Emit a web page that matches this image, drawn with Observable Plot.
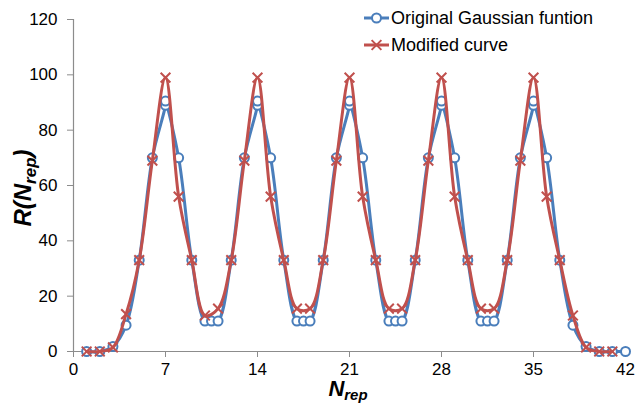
<!DOCTYPE html>
<html>
<head>
<meta charset="utf-8">
<script src="https://cdn.jsdelivr.net/npm/d3@7"></script>
<script src="https://cdn.jsdelivr.net/npm/@observablehq/plot@0.6"></script>
<style>
  html, body { margin: 0; padding: 0; background: white; }
</style>
</head>
<body>
<div id="chart"></div>
<script>
// Data
const seriesNames = ["Original Gaussian funtion", "Modified curve"];
const blueX = [1,2,3,4,5,6,7,7,8,9,10,10.5,11,12,13,14,14,15,16,17,17.5,18,19,20,21,21,22,23,24,24.5,25,26,27,28,28,29,30,31,31.5,32,33,34,35,35,36,37,38,39,40,41,42];
const blueY = [0,0,1.8,9.5,33,70,89,90.5,70,33,11,11,11,33,70,89,90.5,70,33,11,11,11,33,70,89,90.5,70,33,11,11,11,33,70,89,90.5,70,33,11,11,11,33,70,89,90.5,70,33,9.5,1.8,0,0,0];
const redX = [1,2,3,4,5,6,7,8,9,10,11,12,13,14,15,16,17,18,19,20,21,22,23,24,25,26,27,28,29,30,31,32,33,34,35,36,37,38,39,40,41];
const redY = [0,0,1.5,13.5,33,69,99,56,33,13,15.5,33,69,99,56,33,15.5,15.5,33,69,99,56,33,15.5,15.5,33,69,99,56,33,15.5,15.5,33,69,99,56,33,13,1.5,0,0];
const xTicks = [0,7,14,21,28,35,42];
const yTicks = [0,20,40,60,80,100,120];

const blue = "#4a7ebb";
const red = "#c0504d";
const axisGrey = "#8c8c8c";

const blueData = blueX.map((x, i) => ({x, y: blueY[i]}));
const redData = redX.map((x, i) => ({x, y: redY[i]}));

const svg = Plot.plot({
  width: 635,
  height: 405,
  marginLeft: 73,
  marginRight: 10,
  marginTop: 19,
  marginBottom: 54,
  style: {fontFamily: "'Liberation Sans', Arial, sans-serif", background: "white", color: "black"},
  x: {domain: [0, 42]},
  y: {domain: [0, 120]},
  marks: [
    Plot.axisX({ticks: xTicks, tickSize: 6, tickPadding: 5, fontSize: 17, label: null, stroke: axisGrey}),
    Plot.axisY({ticks: yTicks, tickSize: 6, tickPadding: 10, fontSize: 17, label: null, stroke: axisGrey}),
    Plot.ruleY([0], {stroke: axisGrey, strokeWidth: 1.2}),
    Plot.ruleX([0], {stroke: axisGrey, strokeWidth: 1.2}),
    Plot.line(blueData, {x: "x", y: "y", stroke: blue, strokeWidth: 3, curve: "catmull-rom"}),
    Plot.dot(blueData, {x: "x", y: "y", r: 4.5, stroke: blue, strokeWidth: 2, fill: "white"}),
    Plot.line(redData, {x: "x", y: "y", stroke: red, strokeWidth: 3, curve: "catmull-rom"}),
    Plot.dot(redData, {x: "x", y: "y", symbol: "times", r: 4.5, stroke: red, strokeWidth: 2})
  ]
});

const s = d3.select(svg);
const font = "'Liberation Sans', Arial, sans-serif";

// Y axis label R(N_rep)
const yl = s.append("text")
  .attr("transform", "translate(31,188) rotate(-90)")
  .attr("text-anchor", "middle")
  .attr("font-family", font)
  .attr("font-weight", "bold")
  .attr("font-style", "italic")
  .attr("font-size", 24)
  .attr("fill", "black");
yl.append("tspan").text("R(N");
yl.append("tspan").attr("font-size", 17).attr("dy", 5).text("rep");
yl.append("tspan").attr("dy", -5).text(")");

// X axis label N_rep
const xl = s.append("text")
  .attr("x", 348)
  .attr("y", 396)
  .attr("text-anchor", "middle")
  .attr("font-family", font)
  .attr("font-weight", "bold")
  .attr("font-style", "italic")
  .attr("font-size", 22)
  .attr("fill", "black");
xl.append("tspan").text("N");
xl.append("tspan").attr("font-size", 15).attr("dy", 4).text("rep");

// Legend
const legend = [
  {name: seriesNames[0], color: blue, y: 18, kind: "circle"},
  {name: seriesNames[1], color: red, y: 45, kind: "times"}
];
legend.forEach(d => {
  const g = s.append("g");
  g.append("line").attr("x1", 364).attr("x2", 389).attr("y1", d.y).attr("y2", d.y)
    .attr("stroke", d.color).attr("stroke-width", 3);
  if (d.kind === "circle") {
    g.append("circle").attr("cx", 376.5).attr("cy", d.y).attr("r", 4.5)
      .attr("fill", "white").attr("stroke", d.color).attr("stroke-width", 2);
  } else {
    g.append("path").attr("d", d3.symbol(d3.symbolTimes, 64)())
      .attr("transform", `translate(376.5,${d.y})`)
      .attr("fill", "none").attr("stroke", d.color).attr("stroke-width", 2);
  }
  g.append("text").attr("x", 391).attr("y", d.y).attr("dy", "0.35em")
    .attr("text-anchor", "start")
    .attr("font-family", font).attr("font-size", 18).attr("fill", "black")
    .text(d.name);
});

document.getElementById("chart").appendChild(svg);
</script>
</body>
</html>
